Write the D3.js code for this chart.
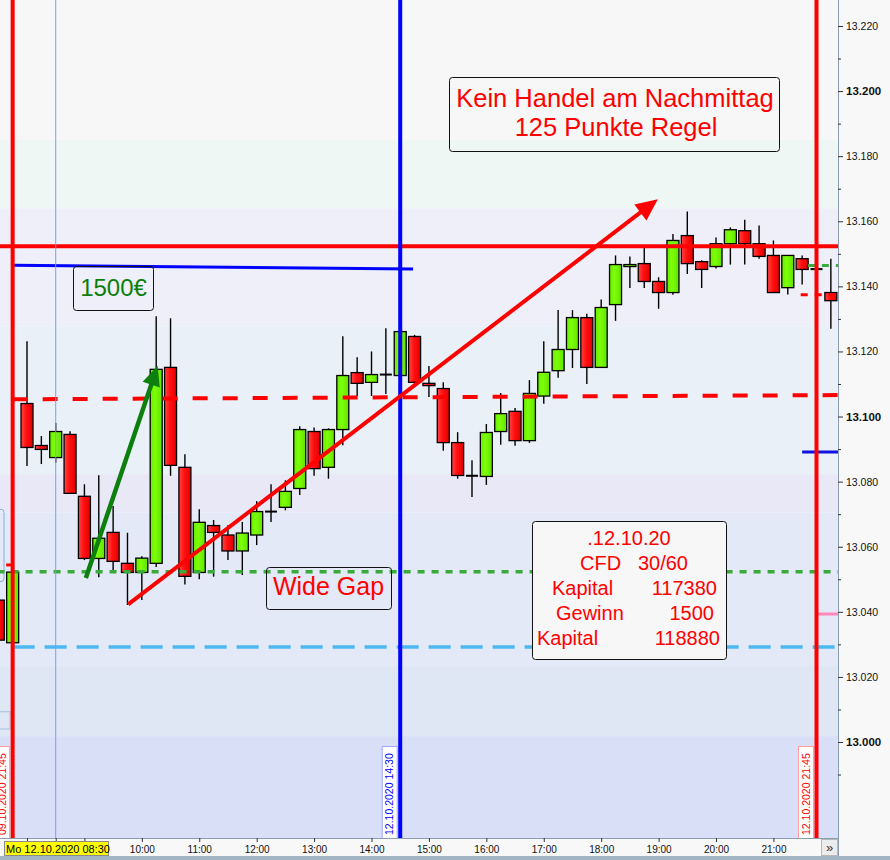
<!DOCTYPE html>
<html><head><meta charset="utf-8">
<script src="https://cdn.jsdelivr.net/npm/d3@7"></script>
<style>
body{margin:0;background:#fff}
svg{display:block;font-family:"Liberation Sans",Arial,sans-serif}
</style>
</head><body>
<svg id="c" width="890" height="860"></svg>
<script>
// ---------------- DATA ----------------
// 15-minute slots: Friday 09.10.2020 last two, then Monday 12.10.2020
const slots = ["21:30","21:45",
 "08:00","08:15","08:30","08:45","09:00","09:15","09:30","09:45",
 "10:00","10:15","10:30","10:45","11:00","11:15","11:30","11:45",
 "12:00","12:15","12:30","12:45","13:00","13:15","13:30","13:45",
 "14:00","14:15","14:30","14:45","15:00","15:15","15:30","15:45",
 "16:00","16:15","16:30","16:45","17:00","17:15","17:30","17:45",
 "18:00","18:15","18:30","18:45","19:00","19:15","19:30","19:45",
 "20:00","20:15","20:30","20:45","21:00","21:15","21:30","21:45","22:00"];
const open  = [13043.6,13030.5,13104.0,13091.1,13087.4,13094.5,13075.5,13056.4,13064.4,13054.9,
 13052.1,13054.9,13115.1,13084.4,13052.1,13066.5,13063.6,13058.7,13063.6,13070.8,
 13072.1,13077.9,13095.4,13084.4,13096.0,13113.5,13110.5,13112.9,13112.6,13124.6,
 13110.2,13108.6,13092.0,13081.8,13081.6,13095.4,13101.6,13092.6,13106.3,13114.1,
 13120.6,13130.4,13115.1,13134.4,13146.1,13147.0,13141.5,13138.1,13155.6,13147.6,
 13146.1,13153.1,13157.1,13153.1,13149.5,13139.6,13148.5,13145.3,13138.1];
const high  = [13045.1,13052.2,13123.1,13094.0,13098.0,13095.5,13079.2,13082.0,13072.5,13064.3,
 13057.1,13130.8,13130.2,13088.4,13071.5,13068.2,13066.6,13067.6,13074.0,13079.2,
 13080.4,13097.0,13096.6,13096.4,13124.7,13118.2,13120.0,13127.1,13126.5,13125.1,
 13115.5,13110.5,13095.2,13086.6,13097.7,13107.2,13102.6,13111.2,13123.1,13132.7,
 13132.7,13131.6,13136.0,13149.5,13149.2,13151.8,13142.8,13156.1,13163.0,13148.0,
 13155.0,13158.1,13160.5,13158.7,13154.1,13149.5,13149.5,13145.3,13148.5];
const low   = [13029.8,13029.8,13084.8,13085.4,13085.8,13076.4,13055.9,13050.6,13052.8,13042.1,
 13043.6,13053.8,13081.8,13048.4,13050.0,13050.8,13055.9,13051.3,13060.5,13067.6,
 13071.2,13075.9,13081.8,13080.9,13091.2,13106.3,13106.3,13106.9,13112.6,13110.5,
 13106.0,13089.5,13080.9,13075.3,13079.0,13091.3,13091.0,13091.9,13103.9,13111.9,
 13114.9,13110.0,13115.1,13129.4,13139.5,13139.5,13133.1,13137.4,13143.8,13139.5,
 13145.5,13146.7,13146.7,13148.5,13138.1,13137.5,13140.6,13145.3,13127.0];
const close = [13031.3,13052.2,13090.5,13089.9,13095.4,13076.4,13056.4,13062.6,13055.5,13052.1,
 13056.5,13114.5,13085.0,13050.9,13067.5,13064.4,13058.7,13064.2,13070.8,13070.8,
 13077.0,13096.0,13084.0,13096.0,13112.6,13110.2,13112.9,13112.9,13126.1,13110.5,
 13109.5,13092.0,13081.9,13081.8,13095.1,13100.9,13092.6,13107.1,13113.6,13120.6,
 13130.4,13115.1,13133.5,13146.7,13146.7,13141.5,13138.1,13154.1,13147.0,13145.2,
 13153.1,13157.4,13153.1,13149.2,13138.1,13149.5,13145.2,13145.3,13135.6];

// time axis ticks (slot indices) and price axis ticks
const timeTicks = [2,4,6,10,14,18,22,26,30,34,38,42,46,50,54];
const timeLabels = ["","","","10:00","11:00","12:00","13:00","14:00","15:00","16:00","17:00","18:00","19:00","20:00","21:00"];
const priceTicks = [12990,13000,13010,13020,13030,13040,13050,13060,13070,13080,13090,13100,
 13110,13120,13130,13140,13150,13160,13170,13180,13190,13200,13210,13220];
const priceLabeled = [13000,13020,13040,13060,13080,13100,13120,13140,13160,13180,13200,13220];
const priceBold = [13000,13100,13200];

// background bands (price boundaries) and colours
const bandTop    = [13400,13185.0,13164.0,13127.7,13082.3,13070.6,13023.6,13001.8];
const bandColors = ["#f7f7f7","#eff7f5","#eeeff8","#e9f0f8","#e8e8f6","#e3e9f6","#dfe7f5","#d8dff6"];

// horizontal level lines (slot index, price)
const levels = [
 {k0:-2, p0:13152.3, k1:60, p1:13152.3, color:"#ff0000", w:4, dash:null},
 {k0:1, p0:13146.5, k1:28.9, p1:13145.3, color:"#0000ff", w:3, dash:null},
 {k0:1, p0:13105.3, k1:58.5, p1:13106.6, color:"#ff0000", w:4, dash:"15,15"},
 {k0:-2, p0:13052.3, k1:60, p1:13052.3, color:"#3aaa3a", w:3.5, dash:"7,7"},
 {k0:1, p0:13029.2, k1:60, p1:13029.2, color:"#4cb8f0", w:3.5, dash:"22,10"},
 {k0:56.0, p0:13089.1, k1:60, p1:13089.1, color:"#1010e0", w:3, dash:null},
 {k0:57.1, p0:13039.3, k1:60, p1:13039.3, color:"#ff88bb", w:3, dash:null},
 {k0:56.4, p0:13146.4, k1:60, p1:13146.4, color:"#3aaa3a", w:3, dash:"7,7"},
 {k0:55.9, p0:13137.4, k1:60, p1:13137.4, color:"#ff0000", w:3, dash:"7,7"},
 {k0:0.55, p0:13054.4, k1:0.95, p1:13054.4, color:"#ff0000", w:3, dash:null}
];
// vertical marker lines (slot index)
const vMarks = [
 {k:1, color:"#ff0000", w:4, label:"09.10.2020 21:45", border:"#ff9c9c"},
 {k:4, color:"#7a9cff", w:1, label:null},
 {k:28, color:"#0000ff", w:4, label:"12.10.2020 14:30", border:"#a0a8ff"},
 {k:57, color:"#ff0000", w:4, label:"12.10.2020 21:45", border:"#ff9c9c"}
];
// arrows (slot index, price)
const arrows = [
 {k0:6.1, p0:13050.4, k1:11.1, p1:13115.6, color:"#0c7f0c", w:4.5, hl:20, hw:9},
 {k0:9.05, p0:13042.3, k1:45.95, p1:13166.8, color:"#ff0000", w:4, hl:22, hw:10}
];

// ---------------- CHART ----------------
const W = 890, H = 860, plotR = 838, plotB = 838;
const svg = d3.select("#c");
const x = d3.scaleLinear().domain([2, 57]).range([27, 816.5]);
const y = d3.scaleLinear().domain([13000, 13220]).range([742, 26]);
const loc = d3.formatLocale({decimal:",", thousands:".", grouping:[3], currency:["","€"]});
const fmt = loc.format(",.0f");

const defs = svg.append("defs");
defs.append("clipPath").attr("id","plotClip").append("rect")
  .attr("x",0).attr("y",0).attr("width",plotR).attr("height",plotB);
const gR = defs.append("linearGradient").attr("id","gRed").attr("x1",0).attr("x2",1).attr("y1",0).attr("y2",0);
gR.append("stop").attr("offset","0").attr("stop-color","#ff4545");
gR.append("stop").attr("offset","0.45").attr("stop-color","#ff1010");
gR.append("stop").attr("offset","1").attr("stop-color","#e20000");
const gG = defs.append("linearGradient").attr("id","gGreen").attr("x1",0).attr("x2",1).attr("y1",0).attr("y2",0);
gG.append("stop").attr("offset","0").attr("stop-color","#68ec00");
gG.append("stop").attr("offset","0.4").attr("stop-color","#7dff08");
gG.append("stop").attr("offset","1").attr("stop-color","#62e200");

const plot = svg.append("g").attr("clip-path","url(#plotClip)");

// background bands
plot.selectAll("rect.band").data(bandTop).join("rect").attr("class","band")
  .attr("x",0).attr("width",plotR)
  .attr("y",(d)=>y(d))
  .attr("height",(d,i)=> (i+1<bandTop.length ? y(bandTop[i+1]) : plotB+10) - y(d))
  .attr("fill",(d,i)=>bandColors[i]);

// partial annotation boxes cut at the left edge
plot.append("rect").attr("x",-20).attr("y",y(13071.5)).attr("width",24).attr("height",y(13049.3)-y(13071.5))
  .attr("rx",3).attr("fill","none").attr("stroke","#86aee6").attr("stroke-width",1);
plot.append("rect").attr("x",-20).attr("y",y(13009.3)).attr("width",30).attr("height",y(13004.0)-y(13009.3))
  .attr("fill","none").attr("stroke","#a8bedc").attr("stroke-width",1);

// candles
const idx = d3.range(open.length);
const bw = 12;
const cg = plot.append("g");
cg.selectAll("line.wick").data(idx).join("line").attr("class","wick")
  .attr("x1",i=>x(i)).attr("x2",i=>x(i))
  .attr("y1",i=>y(high[i])).attr("y2",i=>y(low[i]))
  .attr("stroke","#000").attr("stroke-width",1.4);
cg.selectAll("rect.body").data(idx.filter(i=>close[i]!==open[i])).join("rect").attr("class","body")
  .attr("x",i=>x(i)-bw/2).attr("width",bw)
  .attr("y",i=>y(Math.max(open[i],close[i])))
  .attr("height",i=>Math.max(2, Math.abs(y(open[i])-y(close[i]))))
  .attr("fill",i=>close[i]>open[i]?"url(#gGreen)":"url(#gRed)")
  .attr("stroke","#000").attr("stroke-width",1.3);
cg.selectAll("line.doji").data(idx.filter(i=>close[i]===open[i])).join("line").attr("class","doji")
  .attr("x1",i=>x(i)-bw/2).attr("x2",i=>x(i)+bw/2)
  .attr("y1",i=>y(close[i])).attr("y2",i=>y(close[i]))
  .attr("stroke","#000").attr("stroke-width",2);

// level lines
plot.selectAll("line.level").data(levels).join("line").attr("class","level")
  .attr("x1",d=>x(d.k0)).attr("x2",d=>x(d.k1))
  .attr("y1",d=>y(d.p0)).attr("y2",d=>y(d.p1))
  .attr("stroke",d=>d.color).attr("stroke-width",d=>d.w)
  .attr("stroke-dasharray",d=>d.dash);

// vertical marker lines
plot.selectAll("line.vmark").data(vMarks).join("line").attr("class","vmark")
  .attr("x1",d=>x(d.k)).attr("x2",d=>x(d.k))
  .attr("y1",0).attr("y2",plotB)
  .attr("stroke",d=>d.color).attr("stroke-width",d=>d.w);

// arrows
arrows.forEach(a=>{
  const x1=x(a.k0), y1=y(a.p0), x2=x(a.k1), y2=y(a.p1);
  const dx=x2-x1, dy=y2-y1, L=Math.hypot(dx,dy), ux=dx/L, uy=dy/L;
  const bx=x2-ux*a.hl, by=y2-uy*a.hl;
  plot.append("line").attr("x1",x1).attr("y1",y1).attr("x2",bx+ux*3).attr("y2",by+uy*3)
    .attr("stroke",a.color).attr("stroke-width",a.w);
  plot.append("polygon")
    .attr("points",[[x2,y2],[bx-uy*a.hw,by+ux*a.hw],[bx+uy*a.hw,by-ux*a.hw]].map(p=>p.join(",")).join(" "))
    .attr("fill",a.color);
});

// vertical date labels
vMarks.filter(d=>d.label).forEach(d=>{
  const xr = x(d.k) - d.w/2 - 1;
  plot.append("rect").attr("x",xr-15).attr("y",746.5).attr("width",15).attr("height",plotB-746.5+2)
    .attr("fill","#ffffff").attr("stroke",d.border).attr("stroke-width",1);
  plot.append("text").attr("transform",`translate(${xr-4},835) rotate(-90)`)
    .attr("font-size",10.5).attr("fill",d.color).text(d.label);
});

// text boxes
function box(x0,y0,x1,y1,fill){
  svg.append("rect").attr("x",x0+0.5).attr("y",y0+0.5).attr("width",x1-x0).attr("height",y1-y0)
    .attr("rx",3).attr("fill",fill).attr("stroke","#111").attr("stroke-width",1);
}
box(449,77,779,151,"none");
svg.append("text").attr("x",615).attr("y",107).attr("text-anchor","middle")
  .attr("font-size",25.5).attr("fill","#ff0000").text("Kein Handel am Nachmittag");
svg.append("text").attr("x",616).attr("y",136).attr("text-anchor","middle")
  .attr("font-size",25.5).attr("fill","#ff0000").text("125 Punkte Regel");

box(73,266,153,310,"none");
svg.append("text").attr("x",113.5).attr("y",296).attr("text-anchor","middle")
  .attr("font-size",24).attr("fill","#0a7f0a").text("1500€");

box(266,567,391,609,"none");
svg.append("text").attr("x",328.5).attr("y",595).attr("text-anchor","middle")
  .attr("font-size",25).attr("fill","#ff0000").text("Wide Gap");

box(532,521,726,659,"#f7f7f7");
const info = svg.append("g").attr("font-size",20).attr("fill","#ff0000");
info.append("text").attr("x",629).attr("y",545).attr("text-anchor","middle").text(".12.10.20");
info.append("text").attr("x",580).attr("y",570).text("CFD");
info.append("text").attr("x",688).attr("y",570).attr("text-anchor","end").text("30/60");
info.append("text").attr("x",552).attr("y",595).text("Kapital");
info.append("text").attr("x",717).attr("y",595).attr("text-anchor","end").text("117380");
info.append("text").attr("x",556).attr("y",620).text("Gewinn");
info.append("text").attr("x",714).attr("y",620).attr("text-anchor","end").text("1500");
info.append("text").attr("x",537).attr("y",645).text("Kapital");
info.append("text").attr("x",720).attr("y",645).attr("text-anchor","end").text("118880");

// ------------- axes panels -------------
svg.append("rect").attr("x",plotR).attr("y",0).attr("width",W-plotR).attr("height",856).attr("fill","#f8f8f8");
svg.append("rect").attr("x",0).attr("y",plotB).attr("width",plotR).attr("height",18).attr("fill","#f8f8f8");
svg.append("rect").attr("x",0).attr("y",856).attr("width",W).attr("height",4).attr("fill","#a2b5c5");

// price axis
const yAxis = svg.append("g").attr("transform",`translate(${plotR},0)`)
  .call(d3.axisRight(y).tickValues(priceTicks).tickSize(5).tickPadding(3)
    .tickFormat(v=>priceLabeled.includes(v)?fmt(v):""));
yAxis.select(".domain").attr("stroke","#8b9db0").attr("d",`M0.5,0V856`);
yAxis.selectAll(".tick line").attr("stroke","#333")
  .attr("x2",v=>priceLabeled.includes(v)?5:3);
yAxis.selectAll(".tick text")
  .attr("font-family","'Liberation Sans',Arial,sans-serif")
  .attr("font-size",v=>priceBold.includes(v)?11.5:10.5)
  .attr("font-weight",v=>priceBold.includes(v)?"bold":"normal")
  .attr("fill","#111").attr("x",8);

// time axis
const xAxis = svg.append("g").attr("transform",`translate(0,${plotB})`)
  .call(d3.axisBottom(x).tickValues(timeTicks).tickSize(4).tickPadding(3)
    .tickFormat((v,i)=>timeLabels[i]));
xAxis.select(".domain").attr("stroke","#8b9db0").attr("d",`M0,0.5H${plotR}`);
xAxis.selectAll(".tick line").attr("stroke","#333");
xAxis.selectAll(".tick text").attr("font-family","'Liberation Sans',Arial,sans-serif")
  .attr("font-size",10).attr("fill","#111").attr("dy","0.78em");

// current-time label
svg.append("rect").attr("x",4.5).attr("y",841.5).attr("width",104).attr("height",14)
  .attr("fill","#ffff00").attr("stroke","#8a8a8a").attr("stroke-width",1);
svg.append("text").attr("x",6).attr("y",852.5).attr("font-size",11).attr("fill","#000")
  .text("Mo 12.10.2020 " + slots[4]);

// scroll button
svg.append("rect").attr("x",821.5).attr("y",839.5).attr("width",16).attr("height",16)
  .attr("fill","#ececec").attr("stroke","#b8b8b8");
svg.append("text").attr("x",829.5).attr("y",852).attr("text-anchor","middle")
  .attr("font-size",13).attr("fill","#333").text("»");
</script>
</body></html>
